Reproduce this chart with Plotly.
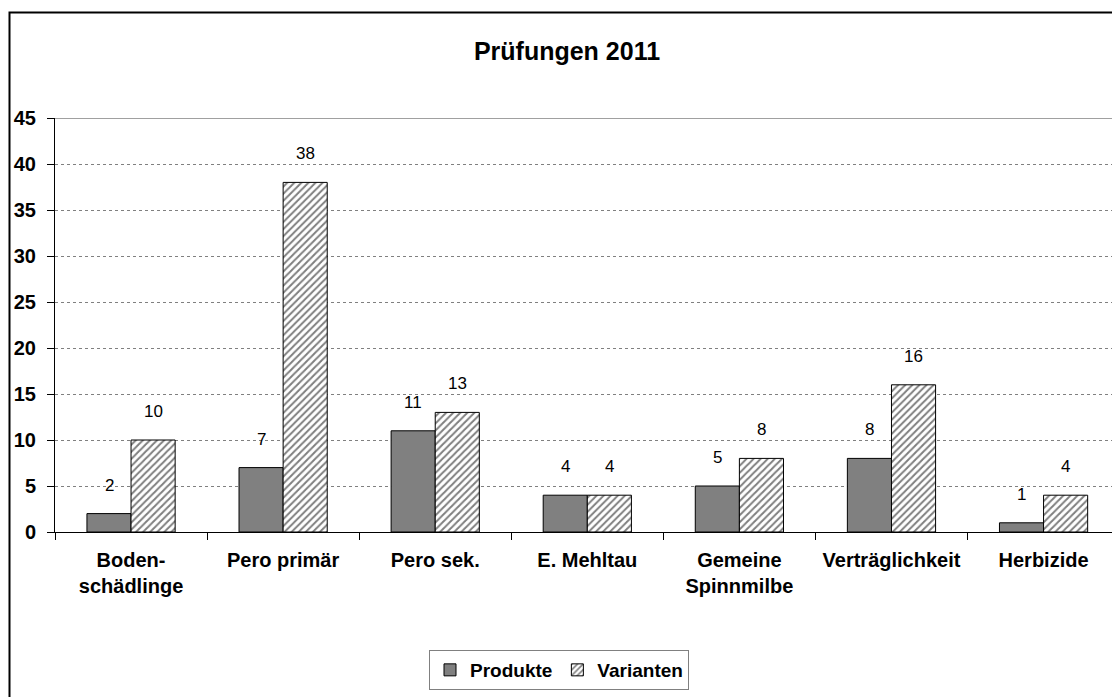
import plotly.graph_objects as go

categories = ["Boden-<br>schädlinge", "Pero primär", "Pero sek.", "E. Mehltau",
              "Gemeine<br>Spinnmilbe", "Verträglichkeit", "Herbizide"]
produkte = [2, 7, 11, 4, 5, 8, 1]
varianten = [10, 38, 13, 4, 8, 16, 4]
y_ticks = [0, 5, 10, 15, 20, 25, 30, 35, 40, 45]

W, H = 1112, 697
L, T, B = 55, 118, 697 - 532
FONT = "Liberation Sans, Arial, sans-serif"

fig = go.Figure()
fig.add_trace(go.Bar(
    name="Produkte", x=categories, y=produkte,
    marker=dict(color="#808080", line=dict(color="black", width=1)),
))
fig.add_trace(go.Bar(
    name="Varianten", x=categories, y=varianten,
    marker=dict(color="white", line=dict(color="black", width=1),
                pattern=dict(shape="/", fgcolor="black", bgcolor="white",
                             size=5, solidity=0.4)),
))

annotations = []
for cat, p, v in zip(categories, produkte, varianten):
    for val, dx in ((p, -22), (v, 22)):
        annotations.append(dict(
            x=cat, y=val, xref="x", yref="y", text=str(val), showarrow=False,
            xshift=dx, yshift=17, yanchor="bottom",
            font=dict(family=FONT, size=17, color="black"),
        ))

pw = W - L
ph = H - T - B
fig.update_layout(
    width=W, height=H,
    margin=dict(l=L, r=0, t=T, b=B, pad=0),
    paper_bgcolor="white", plot_bgcolor="white",
    barmode="group", bargap=0.42, bargroupgap=0,
    title=dict(text="<b>Prüfungen 2011</b>", x=567 / W, xanchor="center",
               y=1 - 51 / H, yanchor="middle",
               font=dict(family=FONT, size=25, color="black")),
    font=dict(family=FONT, color="black"),
    legend=dict(orientation="h", x=(559 - L) / pw, xanchor="center",
                y=(532 - 670) / ph, yanchor="middle",
                bordercolor="#808080", borderwidth=1, bgcolor="white",
                font=dict(family=FONT, size=19, color="black", weight="bold"),
                itemwidth=30, traceorder="normal"),
    xaxis=dict(
        type="category", range=[-0.5, 6.45], tickson="boundaries",
        ticks="outside", ticklen=7, tickcolor="black",
        showline=True, linecolor="black", linewidth=1,
        showgrid=False, ticklabelstandoff=10,
        tickfont=dict(family=FONT, size=20, color="black", weight="bold"),
    ),
    yaxis=dict(
        range=[0, 45], tickvals=y_ticks, ticks="outside", ticklen=7,
        tickcolor="black", showline=True, linecolor="black", linewidth=1,
        showgrid=True, gridcolor="#808080", griddash="dot", gridwidth=1,
        zeroline=False, ticklabelstandoff=7,
        tickfont=dict(family=FONT, size=20, color="black", weight="bold"),
    ),
    annotations=annotations,
    shapes=[
        dict(type="line", xref="paper", yref="y", x0=0, x1=1, y0=45, y1=45,
             line=dict(color="#808080", width=1.5)),
        dict(type="rect", xref="paper", yref="paper",
             x0=(9.5 - L) / pw, x1=1.2, y0=-1, y1=(532 - 12.5) / ph,
             line=dict(color="black", width=2), layer="below"),
    ],
)

fig.write_html("out.html", config={"displayModeBar": False},
               post_script="document.body.style.margin='0';")
